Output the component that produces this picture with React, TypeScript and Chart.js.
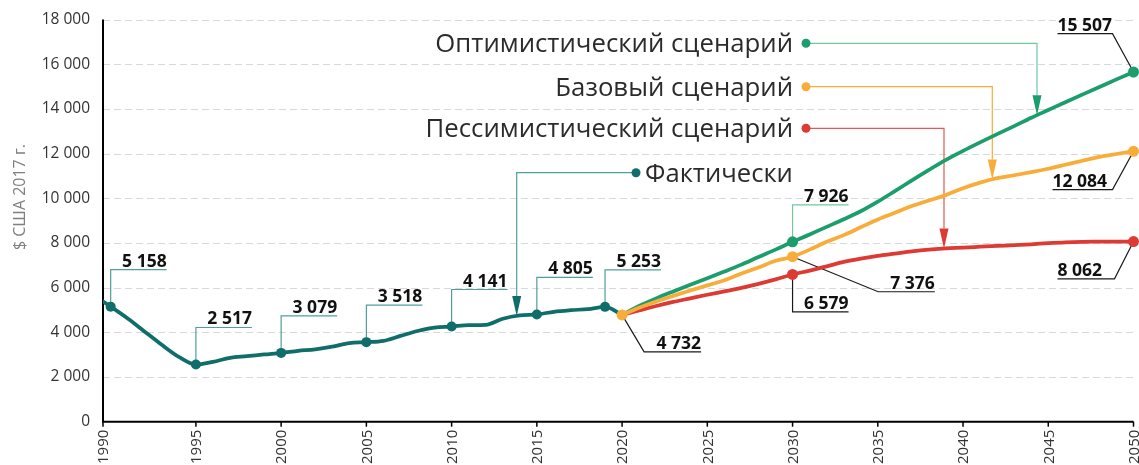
import React, { useEffect, useRef } from "react";
import { Chart, registerables } from "chart.js";
Chart.register(...registerables);

// ---------- data ----------
const actualYears = [1989, 1990, 1991, 1992, 1993, 1994, 1995, 1996, 1997, 1998, 1999, 2000, 2001, 2002, 2003, 2004, 2005, 2006, 2007, 2008, 2009, 2010, 2011, 2012, 2013, 2014, 2015, 2016, 2017, 2018, 2019, 2020];
const actualValues = [5650, 5150, 4620, 4030, 3440, 2900, 2560, 2680, 2860, 2930, 3010, 3080, 3170, 3240, 3360, 3520, 3560, 3620, 3840, 4060, 4210, 4260, 4320, 4330, 4610, 4760, 4800, 4920, 4990, 5040, 5140, 4780];

const scenarioYears = [2020, 2021, 2022, 2023, 2024, 2025, 2026, 2027, 2028, 2029, 2030, 2031, 2032, 2033, 2034, 2035, 2036, 2037, 2038, 2039, 2040, 2041, 2042, 2043, 2044, 2045, 2046, 2047, 2048, 2049, 2050];
const optimisticValues = [4780, 5180, 5520, 5830, 6130, 6420, 6720, 7030, 7370, 7700, 8050, 8380, 8720, 9060, 9420, 9850, 10320, 10800, 11270, 11720, 12120, 12500, 12870, 13230, 13600, 13950, 14300, 14640, 14980, 15320, 15650];
const baseValues = [4780, 5100, 5380, 5630, 5870, 6100, 6330, 6630, 6900, 7200, 7383, 7700, 8050, 8350, 8700, 9050, 9350, 9650, 9900, 10150, 10450, 10700, 10900, 11030, 11170, 11320, 11500, 11680, 11850, 11980, 12100];
const pessimisticValues = [4780, 4980, 5180, 5360, 5520, 5680, 5830, 5990, 6170, 6370, 6590, 6760, 6950, 7150, 7300, 7420, 7520, 7620, 7700, 7760, 7790, 7830, 7870, 7900, 7940, 7990, 8030, 8050, 8055, 8060, 8062];

const actualMarkerYears = [1990, 1995, 2000, 2005, 2010, 2015, 2019];
const actualMarkerLabels = ["5 158", "2 517", "3 079", "3 518", "4 141", "4 805", "5 253"];
const baseMarkerYears = [2020, 2030, 2050];
const baseMarkerLabels = ["4 732", "7 376", "12 084"];
const optimisticMarkerYears = [2030, 2050];
const optimisticMarkerLabels = ["7 926", "15 507"];
const pessimisticMarkerYears = [2030, 2050];
const pessimisticMarkerLabels = ["6 579", "8 062"];

const seriesNames = ["Оптимистический сценарий", "Базовый сценарий", "Пессимистический сценарий", "Фактически"];
const yAxisTitle = "$ США 2017 г.";
const yTicks = [0, 2000, 4000, 6000, 8000, 10000, 12000, 14000, 16000, 18000];
const xTicks = [1990, 1995, 2000, 2005, 2010, 2015, 2020, 2025, 2030, 2035, 2040, 2045, 2050];

// ---------- styles ----------
const FONT = "'Open Sans', 'DejaVu Sans', sans-serif";
const TEAL = "#0f6e6a";
const GREEN = "#1b9e6b";
const ORANGE = "#f8ad3b";
const RED = "#dc3a33";
const TEAL_LIGHT = "#4f9f9b";
const GREEN_LIGHT = "#6ec9a2";
const ORANGE_LIGHT = "#f8ad3b";
const RED_LIGHT = "#e35a54";
const INK = "#1a1a1a";

const interp = (xs: number[], ys: number[], v: number) => {
  for (let i = 0; i < xs.length - 1; i++) {
    if (v >= xs[i] && v <= xs[i + 1]) {
      const t = (v - xs[i]) / (xs[i + 1] - xs[i]);
      return ys[i] + t * (ys[i + 1] - ys[i]);
    }
  }
  return ys[ys.length - 1];
};

export default function App() {
  const ref = useRef<HTMLCanvasElement>(null);
  useEffect(() => {
    const canvas = ref.current!;
    const pts = (xs: number[], ys: number[]) => xs.map((x, i) => ({ x, y: ys[i] }));
    const radii = (xs: number[], marks: number[], r: number) => xs.map((x) => (marks.includes(x) ? r : 0));

    const series: Record<string, { xs: number[]; ys: number[] }> = {
      actual: { xs: actualYears, ys: actualValues },
      opt: { xs: scenarioYears, ys: optimisticValues },
      base: { xs: scenarioYears, ys: baseValues },
      pes: { xs: scenarioYears, ys: pessimisticValues },
    };

    type Ann = { s: string; year: number; text: string; steps: number[][]; color: string };
    const up = [[0, -37], [56, 0]];
    const anns: Ann[] = [
      ...actualMarkerYears.map((yr, i) => ({ s: "actual", year: yr, text: actualMarkerLabels[i], steps: up, color: TEAL_LIGHT })),
      { s: "base", year: baseMarkerYears[0], text: baseMarkerLabels[0], steps: [[22, 37], [57, 0]], color: INK },
      { s: "opt", year: optimisticMarkerYears[0], text: optimisticMarkerLabels[0], steps: up, color: GREEN_LIGHT },
      { s: "base", year: baseMarkerYears[1], text: baseMarkerLabels[1], steps: [[85.6, 35], [56.7, 0]], color: INK },
      { s: "pes", year: pessimisticMarkerYears[0], text: pessimisticMarkerLabels[0], steps: [[0, 37.4], [56, 0]], color: INK },
      { s: "opt", year: optimisticMarkerYears[1], text: optimisticMarkerLabels[1], steps: [[-21, -38.4], [-55, 0]], color: INK },
      { s: "base", year: baseMarkerYears[2], text: baseMarkerLabels[2], steps: [[-21, 38.3], [-60, 0]], color: INK },
      { s: "pes", year: pessimisticMarkerYears[1], text: pessimisticMarkerLabels[1], steps: [[-19, 37.3], [-57, 0]], color: INK },
    ];

    const legend = [
      { s: "opt", text: seriesNames[0], dotX: 806, y: 43.3, cornerX: 1037, color: GREEN, light: GREEN_LIGHT, left: false },
      { s: "base", text: seriesNames[1], dotX: 806, y: 86.7, cornerX: 992.3, color: ORANGE, light: ORANGE_LIGHT, left: false },
      { s: "pes", text: seriesNames[2], dotX: 806, y: 128.3, cornerX: 944, color: RED, light: RED_LIGHT, left: false },
      { s: "actual", text: seriesNames[3], dotX: 636, y: 172.7, cornerX: 516.7, color: TEAL, light: TEAL_LIGHT, left: true },
    ];

    const decor = {
      id: "decor",
      beforeDatasetsDraw(chart: any) {
        const { ctx, chartArea: a, scales } = chart;
        const x = scales.x, y = scales.y;
        ctx.save();
        // grid
        ctx.strokeStyle = "#d9d9d9";
        ctx.lineWidth = 1;
        ctx.setLineDash([7, 4]);
        yTicks.forEach((v) => {
          if (v === 0) return;
          const py = Math.round(y.getPixelForValue(v)) + 0.5;
          ctx.beginPath();
          ctx.moveTo(a.left, py);
          ctx.lineTo(a.right, py);
          ctx.stroke();
        });
        ctx.setLineDash([]);
        // axes
        ctx.strokeStyle = "#000";
        ctx.lineWidth = 2;
        ctx.beginPath();
        ctx.moveTo(a.left, a.top);
        ctx.lineTo(a.left, a.bottom);
        ctx.lineTo(a.right, a.bottom);
        ctx.stroke();
        const tickX = (t: number, i: number) => (i === 0 ? a.left : x.getPixelForValue(t));
        ctx.lineWidth = 1.5;
        xTicks.forEach((t, i) => {
          const px = tickX(t, i);
          ctx.beginPath();
          ctx.moveTo(px, a.bottom);
          ctx.lineTo(px, a.bottom + 5);
          ctx.stroke();
        });
        // x labels
        ctx.fillStyle = "#333";
        ctx.font = `15px ${FONT}`;
        ctx.textAlign = "right";
        ctx.textBaseline = "middle";
        xTicks.forEach((t, i) => {
          ctx.save();
          ctx.translate(tickX(t, i), a.bottom + 8);
          ctx.rotate(-Math.PI / 2);
          ctx.fillText(String(t), 0, 1);
          ctx.restore();
        });
        // y labels
        ctx.font = `15.5px ${FONT}`;
        yTicks.forEach((v) => {
          const s = v === 0 ? "0" : `${v / 1000} 000`;
          ctx.fillText(s, a.left - 13, y.getPixelForValue(v));
        });
        // y title
        ctx.save();
        ctx.fillStyle = "#808080";
        ctx.font = `16px ${FONT}`;
        ctx.textAlign = "center";
        ctx.translate(20, 197);
        ctx.rotate(-Math.PI / 2);
        ctx.fillText(yAxisTitle, 0, 0);
        ctx.restore();

        // value annotations
        anns.forEach((an) => {
          const sr = series[an.s];
          let px = x.getPixelForValue(an.year);
          let py = y.getPixelForValue(interp(sr.xs, sr.ys, an.year));
          ctx.strokeStyle = an.color;
          ctx.lineWidth = 1.2;
          ctx.beginPath();
          ctx.moveTo(px, py);
          let lastDx = 0;
          an.steps.forEach(([dx, dy]) => {
            px += dx;
            py += dy;
            lastDx = dx;
            ctx.lineTo(px, py);
          });
          ctx.stroke();
          ctx.fillStyle = "#111";
          ctx.font = `bold 17.5px ${FONT}`;
          ctx.textBaseline = "alphabetic";
          ctx.textAlign = lastDx >= 0 ? "right" : "left";
          ctx.fillText(an.text, px, py - 3);
        });

        // legend callouts
        ctx.font = `26px ${FONT}`;
        const fs = (26 * 358) / ctx.measureText(seriesNames[0]).width;
        const fsActual = (26 * 148) / ctx.measureText(seriesNames[3]).width;
        legend.forEach((l) => {
          const sr = series[l.s];
          const tipYear = x.getValueForPixel(l.cornerX);
          const tipY = y.getPixelForValue(interp(sr.xs, sr.ys, tipYear));
          ctx.strokeStyle = l.light;
          ctx.lineWidth = 1.2;
          ctx.beginPath();
          ctx.moveTo(l.dotX, l.y);
          ctx.lineTo(l.cornerX, l.y);
          ctx.lineTo(l.cornerX, tipY - 20);
          ctx.stroke();
          ctx.fillStyle = l.color;
          ctx.beginPath();
          ctx.moveTo(l.cornerX - 4.5, tipY - 20);
          ctx.lineTo(l.cornerX + 4.5, tipY - 20);
          ctx.lineTo(l.cornerX, tipY);
          ctx.closePath();
          ctx.fill();
          ctx.beginPath();
          ctx.arc(l.dotX, l.y, 4.5, 0, Math.PI * 2);
          ctx.fill();
          const f = l.left ? fsActual : fs;
          ctx.fillStyle = "#2b2b2b";
          ctx.font = `${f}px ${FONT}`;
          ctx.textBaseline = "alphabetic";
          ctx.textAlign = l.left ? "left" : "right";
          const by = l.y + (f * 0.714) / 2;
          ctx.fillText(l.text, l.left ? l.dotX + 9 : l.dotX - 13, by);
        });
        ctx.restore();
      },
    };

    const common = {
      borderWidth: 3.75,
      cubicInterpolationMode: "monotone" as const,
      pointBorderWidth: 0,
      clip: { left: 0, right: 10, top: 10, bottom: 10 },
    };

    const chart = new Chart(canvas, {
      type: "line",
      data: {
        datasets: [
          { ...common, label: "base", data: pts(scenarioYears, baseValues), borderColor: ORANGE, backgroundColor: ORANGE, pointBackgroundColor: ORANGE, pointRadius: radii(scenarioYears, baseMarkerYears, 5.5) },
          { ...common, label: "opt", data: pts(scenarioYears, optimisticValues), borderColor: GREEN, backgroundColor: GREEN, pointBackgroundColor: GREEN, pointRadius: radii(scenarioYears, optimisticMarkerYears, 5.5) },
          { ...common, label: "pes", data: pts(scenarioYears, pessimisticValues), borderColor: RED, backgroundColor: RED, pointBackgroundColor: RED, pointRadius: radii(scenarioYears, pessimisticMarkerYears, 5.5) },
          { ...common, label: "actual", data: pts(actualYears, actualValues), borderColor: TEAL, backgroundColor: TEAL, pointBackgroundColor: TEAL, pointRadius: radii(actualYears, actualMarkerYears, 5) },
        ],
      },
      options: {
        animation: false,
        responsive: true,
        maintainAspectRatio: false,
        events: [],
        layout: { padding: { left: 103, right: 4.5, top: 19.5, bottom: 43.3 } },
        plugins: { legend: { display: false }, tooltip: { enabled: false } },
        scales: {
          x: { type: "linear", min: 1989.55, max: 2050, display: false },
          y: { type: "linear", min: 0, max: 18000, display: false },
        },
      },
      plugins: [decor],
    });
    return () => chart.destroy();
  }, []);

  return (
    <div style={{ position: "fixed", left: 0, top: 0, width: 1139, height: 465, background: "#fff" }}>
      <canvas ref={ref} />
    </div>
  );
}
